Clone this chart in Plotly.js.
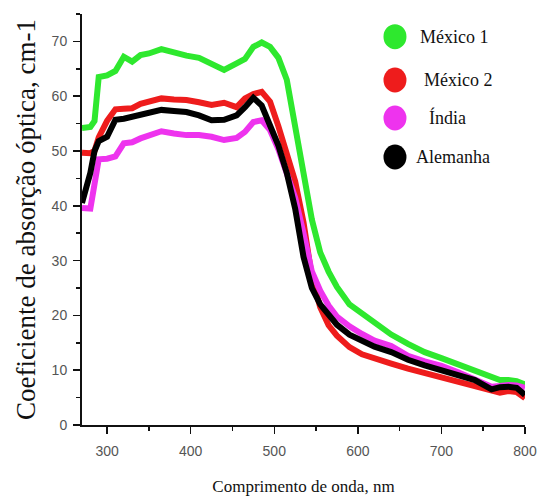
<!DOCTYPE html>
<html>
<head>
<meta charset="utf-8">
<script src="https://cdn.plot.ly/plotly-3.0.1.min.js"></script>
<style>
  html, body { margin: 0; padding: 0; background: #fff; }
  #chart { width: 537px; height: 499px; }
</style>
</head>
<body>
<div id="chart"></div>
<script>
// Wavelength grid (nm)
const wavelength = [270, 280, 285, 290, 300, 310, 320, 330, 340, 350, 365, 380, 395, 410, 425, 440, 455, 465, 475, 485, 495, 505, 515, 525, 535, 545, 555, 565, 575, 590, 605, 620, 640, 660, 680, 700, 720, 740, 760, 770, 780, 790, 800];

const mexico1 = [54.2, 54.4, 55.5, 63.5, 63.8, 64.6, 67.2, 66.3, 67.5, 67.8, 68.6, 67.9, 67.4, 67.0, 66.0, 64.8, 66.0, 66.8, 69.0, 69.8, 69.0, 67.0, 63.0, 55.0, 46.0, 37.5, 31.5, 28.0, 25.2, 22.0, 20.3, 18.8, 16.5, 14.8, 13.3, 12.2, 11.0, 10.0, 8.7, 8.2, 8.2, 8.0, 7.4];
const mexico2 = [49.7, 49.6, 50.0, 52.5, 55.5, 57.6, 57.7, 57.8, 58.6, 59.0, 59.6, 59.4, 59.3, 58.9, 58.4, 58.8, 58.0, 59.6, 60.4, 60.8, 59.0, 54.5, 49.6, 44.5, 37.0, 27.0, 21.5, 18.2, 16.3, 14.2, 12.9, 12.1, 11.2, 10.3, 9.5, 8.6, 7.9, 7.2, 6.2, 5.9, 6.2, 6.0, 4.9];
const india = [39.6, 39.5, 44.0, 48.5, 48.6, 49.0, 51.4, 51.6, 52.3, 52.8, 53.6, 53.2, 52.9, 52.9, 52.6, 52.0, 52.4, 53.5, 55.3, 55.6, 53.8, 50.3, 46.0, 41.5, 35.0, 28.0, 24.5, 21.8, 19.8, 18.0, 16.6, 15.4, 14.4, 12.6, 11.6, 10.8, 9.6, 8.3, 7.0, 7.1, 7.3, 7.2, 6.8];
const alemanha = [40.5, 46.0, 50.0, 51.8, 52.6, 55.7, 55.9, 56.2, 56.6, 57.0, 57.5, 57.3, 57.1, 56.5, 55.6, 55.7, 56.5, 58.0, 59.7, 58.3, 54.8, 51.0, 46.0, 39.5, 30.7, 25.0, 22.0, 20.0, 18.3, 16.5, 15.3, 14.3, 13.3, 11.9, 10.9, 10.0, 9.3, 8.2, 6.5, 6.9, 7.0, 6.8, 5.5];

const seriesNames = ['México 1', 'México 2', 'Índia', 'Alemanha'];
const seriesColors = ['#2ee82e', '#ee1c1c', '#ee33ee', '#000000'];
const seriesData = [mexico1, mexico2, india, alemanha];

const xTickVals = [300, 400, 500, 600, 700, 800];
const yTickVals = [0, 10, 20, 30, 40, 50, 60, 70];

const SERIF = '"Liberation Serif", "Times New Roman", serif';
const SANS = '"Liberation Sans", Arial, sans-serif';

const traces = seriesData.map((ys, i) => ({
  type: 'scatter',
  mode: 'lines',
  name: seriesNames[i],
  x: wavelength,
  y: ys,
  line: { color: seriesColors[i], width: 6, shape: 'linear' },
  showlegend: false
}));

// Manual legend (circles + serif labels) placed in paper coordinates
const legendX = 0.7065;
const legendY = [0.9448, 0.8394, 0.747, 0.652];
const legendTextX = [0.758, 0.767, 0.779, 0.749];

const shapes = legendY.map((yy, i) => ({
  type: 'circle',
  xref: 'paper', yref: 'paper',
  xsizemode: 'pixel', ysizemode: 'pixel',
  xanchor: legendX, yanchor: yy,
  x0: -11.5, x1: 11.5, y0: -12.5, y1: 12.5,
  fillcolor: seriesColors[i],
  line: { width: 0 }
}));

const annotations = legendY.map((yy, i) => ({
  xref: 'paper', yref: 'paper',
  x: legendTextX[i], y: yy,
  xanchor: 'left', yanchor: 'middle',
  text: seriesNames[i],
  showarrow: false,
  font: { family: SERIF, size: 18, color: '#111' }
}));

const tickFont = { family: SANS, size: 14, color: '#555' };

const layout = {
  width: 537,
  height: 499,
  margin: { l: 82, r: 12, t: 14, b: 74 },
  paper_bgcolor: '#fff',
  plot_bgcolor: '#fff',
  showlegend: false,
  xaxis: {
    range: [270, 800],
    tickvals: xTickVals,
    ticks: 'outside', ticklen: 7, tickwidth: 1.5, tickcolor: '#111',
    minor: { dtick: 50, tick0: 250, ticks: 'outside', ticklen: 4, tickwidth: 1.5, tickcolor: '#111' },
    showline: true, linecolor: '#111', linewidth: 2,
    showgrid: false, zeroline: false,
    tickfont: tickFont,
    ticklabelstandoff: 5,
    title: { text: 'Comprimento de onda, nm', font: { family: SERIF, size: 17, color: '#111' }, standoff: 22 }
  },
  yaxis: {
    range: [0, 75],
    tickvals: yTickVals,
    ticks: 'outside', ticklen: 7, tickwidth: 1.5, tickcolor: '#111',
    minor: { dtick: 5, tick0: 0, ticks: 'outside', ticklen: 4, tickwidth: 1.5, tickcolor: '#111' },
    showline: true, linecolor: '#111', linewidth: 2,
    showgrid: false, zeroline: false,
    tickfont: tickFont,
    ticklabelstandoff: 3,
    title: { text: 'Coeficiente de absorção óptica, cm-1', font: { family: SERIF, size: 27, color: '#111' }, standoff: 8 }
  },
  xaxis2: {
    overlaying: 'x', side: 'top', anchor: 'y',
    range: [270, 800], dtick: 50, tick0: 250,
    ticks: 'inside', ticklen: 4, tickwidth: 1.2, tickcolor: '#111',
    showticklabels: false, showline: true, linecolor: '#111', linewidth: 1.5,
    showgrid: false, zeroline: false
  },
  yaxis2: {
    overlaying: 'y', side: 'right', anchor: 'x',
    range: [0, 75], dtick: 5, tick0: 0,
    ticks: 'inside', ticklen: 4, tickwidth: 1.2, tickcolor: '#111',
    showticklabels: false, showline: true, linecolor: '#111', linewidth: 1.5,
    showgrid: false, zeroline: false
  },
  shapes: shapes,
  annotations: annotations
};

Plotly.newPlot('chart', traces, layout, { displayModeBar: false, staticPlot: true });
</script>
</body>
</html>
